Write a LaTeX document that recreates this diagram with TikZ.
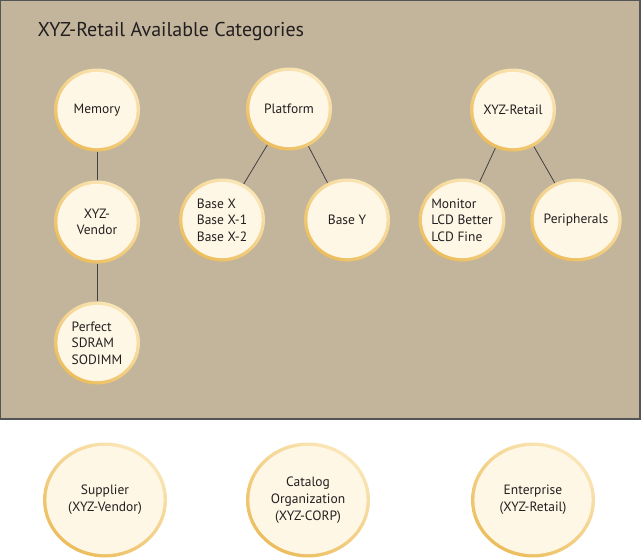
\documentclass[tikz,border=0pt]{standalone}
\usepackage{fontspec}
\setmainfont{PT Sans}
\usetikzlibrary{shapes.geometric,calc}
\definecolor{panel}{HTML}{C2B59B}
\definecolor{panelborder}{HTML}{555555}
\definecolor{cream}{HTML}{FFF7E6}
\definecolor{ringlight}{HTML}{FAE6B8}
\definecolor{ringdark}{HTML}{ECBD5C}
\definecolor{ink}{HTML}{231F20}
\tikzset{
  ringed/.style={ellipse, inner sep=0pt, text=ink,
    left color=ringlight, right color=ringdark, shading angle=-35,
    path picture={
      \path let \p1=(path picture bounding box.north east),
                \p2=(path picture bounding box.south west) in
        [fill=cream] (path picture bounding box.center)
        ellipse [x radius={abs(\x1-\x2)/2-3.4pt}, y radius={abs(\y1-\y2)/2-3.4pt}];
    }},
  cat/.style={ringed, minimum width=86pt, minimum height=83pt,
    font=\fontsize{13.5}{16.5}\selectfont},
  role/.style={ringed, minimum width=124pt, minimum height=115pt,
    font=\fontsize{13.5}{17}\selectfont, align=center},
  link/.style={draw=ink!85, line width=0.8pt}
}
\begin{document}
\begin{tikzpicture}[x=1pt,y=-1pt]
\useasboundingbox (0,0) rectangle (641,560);
\fill[white] (0,0) rectangle (641,560);
\draw[fill=panel, draw=panelborder, line width=1.2pt] (0.6,0.6) rectangle (640,419);
\node[anchor=west, text=ink, font=\fontsize{20}{24}\selectfont] (title) at (34,31) {XYZ-Retail Available Categories};

\node[cat] (memory) at (97,110) {Memory};
\node[cat, align=center] (vendor) at (97,222) {XYZ-\\Vendor};
\node[cat, align=left] (perfect) at (97,343) {Perfect\\SDRAM\\SODIMM};

\node[cat] (platform) at (289,109) {Platform};
\node[cat, align=left] (basex) at (222,220) {Base X\\Base X-1\\Base X-2};
\node[cat] (basey) at (347,220) {Base Y};

\node[cat] (retail) at (513,110) {XYZ-Retail};
\node[cat, align=left] (monitor) at (462,220) {Monitor\\LCD Better\\LCD Fine};
\node[cat] (periph) at (576,220) {Peripherals};

\draw[link] (memory) -- (vendor);
\draw[link] (vendor) -- (perfect);
\draw[link] (platform) -- (basex);
\draw[link] (platform) -- (basey);
\draw[link] (retail) -- (monitor);
\draw[link] (retail) -- (periph);

\node[role] (supplier) at (105,500) {Supplier\\(XYZ-Vendor)};
\node[role] (catalog) at (308,500) {Catalog\\Organization\\(XYZ-CORP)};
\node[role] (enterprise) at (533,500) {Enterprise\\(XYZ-Retail)};
\end{tikzpicture}
\end{document}
